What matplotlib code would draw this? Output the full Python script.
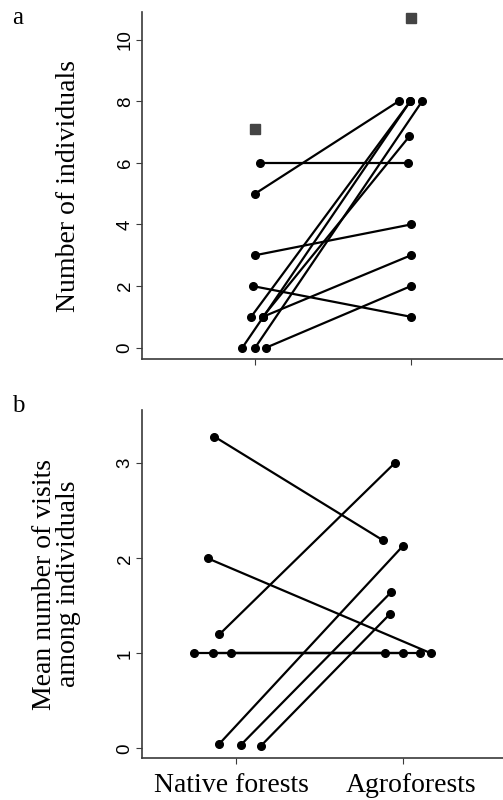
import matplotlib
matplotlib.use("Agg")
import matplotlib.pyplot as plt
from matplotlib.transforms import ScaledTranslation

# panel a: number of individuals per site pair (native, agro)
a_native = [6, 5, 3, 2, 0, 1, 0, 1, 1, 0]
a_agro = [6, 8, 4, 1, 8, 8, 8, 6.86, 3, 2]
a_native_jit = [0.028, 0, 0, -0.017, -0.082, -0.026, 0, 0.049, 0.049, 0.071]
a_agro_jit = [-0.022, -0.08, 0, 0, -0.005, -0.005, 0.071, -0.011, 0, 0]
a_square = [7.1, 10.7]

# panel b: mean number of visits among individuals
b_native = [3.28, 2.0, 1.2, 1, 1, 1, 0.05, 0.04, 0.03]
b_agro = [2.19, 1.0, 3.0, 1, 1, 1, 2.13, 1.645, 1.41]
b_native_jit = [-0.13, -0.17, -0.10, -0.25, -0.14, -0.03, -0.10, 0.03, 0.15]
b_agro_jit = [-0.12, 0.17, -0.05, -0.11, 0.0, 0.10, 0.0, -0.07, -0.08]

groups = ["Native forests", "Agroforests"]

serif = "Liberation Serif"
sans = "Liberation Sans"

fig = plt.figure(figsize=(5.03, 8), dpi=100)
ax_a = fig.add_axes([0.2823, 0.55125, 0.7177, 0.43375])
ax_b = fig.add_axes([0.2823, 0.0525, 0.7177, 0.435])


def pair_plot(ax, nat, agr, nj, aj):
    for v1, v2, j1, j2 in zip(nat, agr, nj, aj):
        ax.plot([1 + j1, 2 + j2], [v1, v2], color="black", lw=1.6,
                marker="o", ms=5.5, mfc="black", mec="black",
                solid_capstyle="round", clip_on=False)


def style(ax, yticks):
    for s in ["top", "right"]:
        ax.spines[s].set_visible(False)
    for s in ["left", "bottom"]:
        ax.spines[s].set_color("#3a3a3a")
        ax.spines[s].set_linewidth(1.2)
    ax.set_yticks(yticks)
    ax.set_xticks([1, 2])
    ax.tick_params(axis="y", labelrotation=90, length=4, pad=2,
                   color="#3a3a3a", labelsize=13.5)
    ax.tick_params(axis="x", length=4, color="#3a3a3a")
    for lab in ax.get_yticklabels():
        lab.set_fontfamily(sans)
        lab.set_va("center")


pair_plot(ax_a, a_native, a_agro, a_native_jit, a_agro_jit)
ax_a.plot([1, 2], a_square, ls="none", marker="s", ms=6.5,
          color="#444444", clip_on=False)
ax_a.set_xlim(0.274, 2.59)
ax_a.set_ylim(-0.37, 10.9)
style(ax_a, [0, 2, 4, 6, 8, 10])
ax_a.set_xticklabels([])
ax_a.set_ylabel("Number of individuals", fontfamily=serif, fontsize=20)
ax_a.yaxis.set_label_coords(-0.168, 0.5)

pair_plot(ax_b, b_native, b_agro, b_native_jit, b_agro_jit)
ax_b.set_xlim(0.436, 2.60)
ax_b.set_ylim(-0.10, 3.56)
style(ax_b, [0, 1, 2, 3])
ax_b.set_xticklabels(groups, fontfamily=serif, fontsize=20)
ax_b.tick_params(axis="x", pad=7)
for lab, dx in zip(ax_b.get_xticklabels(), [-5, 8]):
    lab.set_transform(lab.get_transform()
                      + ScaledTranslation(dx / 100, 0, fig.dpi_scale_trans))
ax_b.set_ylabel("Mean number of visits\namong individuals",
                fontfamily=serif, fontsize=20, linespacing=0.95)
ax_b.yaxis.set_label_coords(-0.17, 0.5)

fig.text(0.024, 0.977, "a", fontfamily=serif, fontsize=18, va="center")
fig.text(0.024, 0.493, "b", fontfamily=serif, fontsize=18, va="center")

fig.savefig("out.png", dpi=100)
